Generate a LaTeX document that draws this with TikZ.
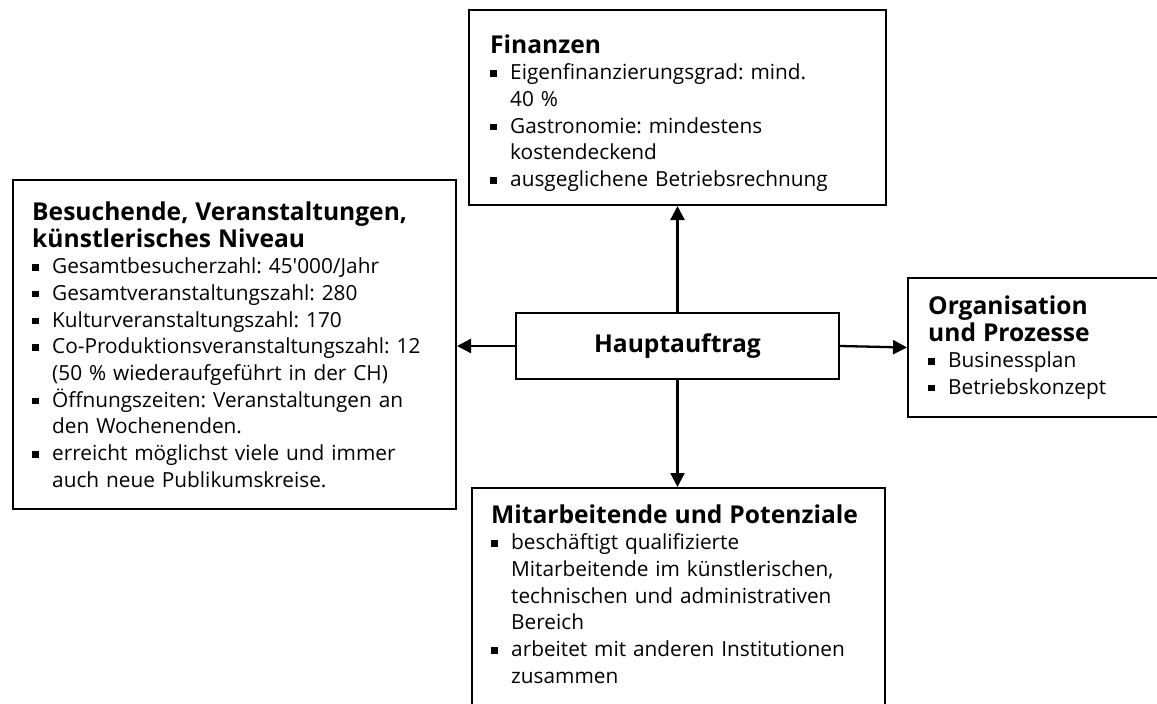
\documentclass[tikz,border=0pt]{standalone}
\usepackage{fontspec}
\setmainfont{Open Sans}
\usetikzlibrary{arrows.meta}
\frenchspacing

\newcommand{\hd}[1]{{\fontsize{24.6}{27}\selectfont\bfseries #1\par}}
\newcommand{\bul}[1]{\par\hangindent=20pt\hangafter=1\noindent
  \makebox[20pt][l]{\rule[3pt]{6.5pt}{6.5pt}}#1\par}

\begin{document}
\begin{tikzpicture}[
    x=1pt, y=-1pt,
    box/.style={draw, line width=2pt, anchor=north west, inner sep=0pt},
    lbl/.style={anchor=base west, inner sep=0pt, align=left,
      font=\fontsize{20.8}{26.7}\selectfont},
    con/.style={line width=2.3pt, -{Triangle[length=14pt, width=14pt]}},
  ]
  \useasboundingbox (0,0) rectangle (1157,704);
  \clip (0,0) rectangle (1157,704);

  \node[box, minimum width=443pt, minimum height=329pt] (lft) at (12,179) {};
  \node[box, minimum width=417pt, minimum height=195pt] (fin) at (468,9) {};
  \node[box, minimum width=323pt, minimum height=66pt,
    font=\fontsize{24.6}{27}\selectfont\bfseries] (haupt) at (515,312) {Hauptauftrag};
  \node[box, minimum width=270pt, minimum height=139pt] (org) at (907,277) {};
  \node[box, minimum width=413pt, minimum height=240pt] (mit) at (471,487) {};

  \node[lbl, text width=430pt] (lft-t) at (32,220) {%
    \hd{Besuchende, Veranstaltungen,\newline künstlerisches Niveau}
    \bul{Gesamtbesucherzahl: 45\textquotesingle000/Jahr}
    \bul{Gesamtveranstaltungszahl: 280}
    \bul{Kulturveranstaltungszahl: 170}
    \bul{Co-Produktionsveranstaltungszahl: 12\newline (50~\% wiederaufgeführt in der CH)}
    \bul{Öffnungszeiten: Veranstaltungen an\newline den Wochenenden.}
    \bul{erreicht möglichst viele und immer\newline auch neue Publikumskreise.}};
  \node[lbl, text width=400pt] (fin-t) at (490,53) {%
    \hd{Finanzen}
    \bul{Eigenfinanzierungsgrad: mind.\newline 40~\%}
    \bul{Gastronomie: mindestens\newline kostendeckend}
    \bul{ausgeglichene Betriebsrechnung}};
  \node[lbl, text width=245pt] (org-t) at (928,314) {%
    \hd{Organisation\newline und Prozesse}
    \bul{Businessplan}
    \bul{Betriebskonzept}};
  \node[lbl, text width=400pt] (mit-t) at (491,523) {%
    \hd{Mitarbeitende und Potenziale}
    \bul{beschäftigt qualifizierte\newline Mitarbeitende im künstlerischen,\newline
      technischen und administrativen\newline Bereich}
    \bul{arbeitet mit anderen Institutionen\newline zusammen}};

  \draw[con] (haupt.north) -- (haupt.north |- fin.south);
  \draw[con] (haupt.south) -- (haupt.south |- mit.north);
  \draw[con] (haupt.west) -- (haupt.west -| lft.east);
  \draw[con] (haupt.east) -- (org.west);
\end{tikzpicture}
\end{document}
